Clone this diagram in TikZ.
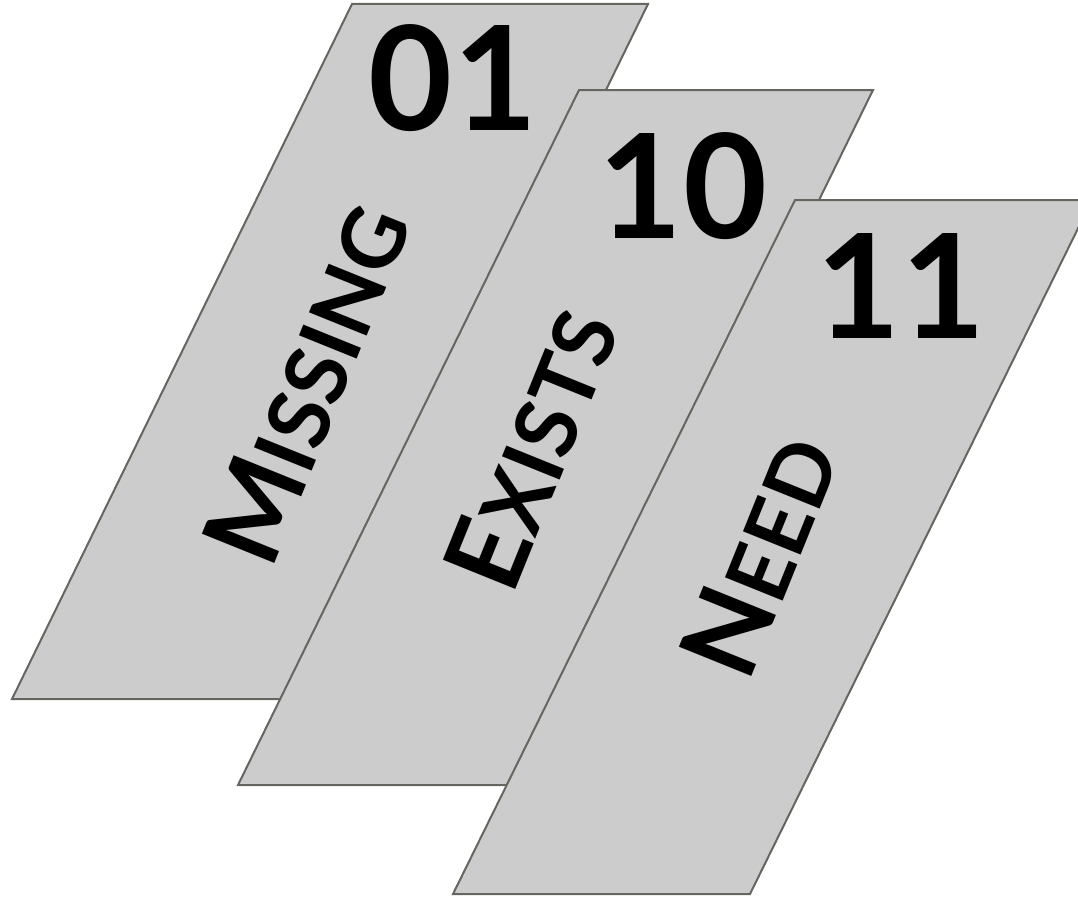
\documentclass[tikz,border=0pt]{standalone}
\usepackage{fontspec}
\setmainfont{Lato}
\definecolor{cardfill}{HTML}{CCCCCC}
\definecolor{cardline}{HTML}{66655F}
% capital + shrunken capitals, for the small caps words
\newcommand{\scword}[2]{{\fontsize{108}{108}\selectfont #1}{\fontsize{86}{86}\selectfont #2}}

\begin{document}
\begin{tikzpicture}[x=1pt,y=-1pt,
		card/.style={fill=cardfill,draw=cardline,line width=2pt},
		num/.style={font=\bfseries\fontsize{145}{145}\selectfont,inner sep=0pt},
		word/.style={font=\bfseries,rotate=68,inner sep=0pt}]
	\useasboundingbox (0,0) rectangle (1078,899);
		%Card 1
			\draw[card] (352,4) -- (648,4) -- (308,699) -- (12,699) -- cycle;
			\node[num] (num01) at (453,78) {01};
			\node[word] (missing) at (306,383) {\scword{M}{ISSING}};
		%Card 2
			\draw[card] (579,90) -- (873,90) -- (532,785) -- (238,785) -- cycle;
			\node[num] (num10) at (683,186) {10};
			\node[word] (exists) at (531,448) {\scword{E}{XISTS}};
		%Card 3
			\draw[card] (795,200) -- (1092,200) -- (750,894) -- (453,894) -- cycle;
			\node[num] (num11) at (901,286) {11};
			\node[word] (need) at (759,555) {\scword{N}{EED}};
\end{tikzpicture}
\end{document}
